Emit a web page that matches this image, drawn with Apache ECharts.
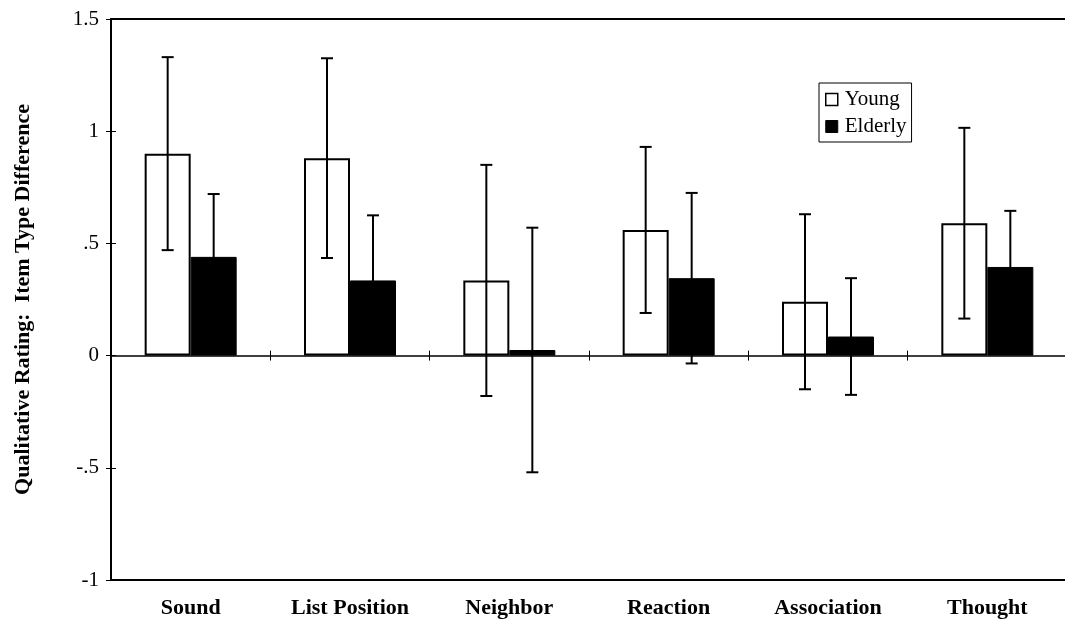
<!DOCTYPE html>
<html>
<head>
<meta charset="utf-8">
<script src="https://cdn.jsdelivr.net/npm/echarts@6/dist/echarts.min.js"></script>
<style>
  html, body { margin: 0; padding: 0; background: #fff; }
  #chart { width: 1065px; height: 622px; }
</style>
</head>
<body>
<div id="chart"></div>
<script>
const categories = ['Sound', 'List Position', 'Neighbor', 'Reaction', 'Association', 'Thought'];
const youngValues = [0.90, 0.88, 0.335, 0.56, 0.24, 0.59];
const elderlyValues = [0.44, 0.335, 0.025, 0.345, 0.085, 0.395];
const youngErrors = [0.43, 0.445, 0.515, 0.37, 0.39, 0.425];
const elderlyErrors = [0.28, 0.29, 0.545, 0.38, 0.26, 0.25];
const yTickLabels = { '-1': '-1', '-0.5': '-.5', '0': '0', '0.5': '.5', '1': '1', '1.5': '1.5' };

const FONT = '"Liberation Serif", "Times New Roman", serif';
const BAR_W = 46;

function errorSeries(name, values, errors, offset) {
  return {
    type: 'custom',
    name: name + ' error',
    xAxisIndex: 0,
    yAxisIndex: 0,
    z: 5,
    silent: true,
    data: values.map((v, i) => [i, v, errors[i]]),
    encode: { x: 0, y: [1] },
    renderItem: function (params, api) {
      const i = api.value(0), v = api.value(1), e = api.value(2);
      const hi = api.coord([i, v + e]);
      const lo = api.coord([i, v - e]);
      const x = hi[0] + offset;
      const cap = 6;
      const st = { stroke: '#000', lineWidth: 2 };
      return {
        type: 'group',
        children: [
          { type: 'line', shape: { x1: x, y1: hi[1], x2: x, y2: lo[1] }, style: st },
          { type: 'line', shape: { x1: x - cap, y1: hi[1], x2: x + cap, y2: hi[1] }, style: st },
          { type: 'line', shape: { x1: x - cap, y1: lo[1], x2: x + cap, y2: lo[1] }, style: st }
        ]
      };
    }
  };
}

const chart = echarts.init(document.getElementById('chart'), null, { renderer: 'canvas' });
chart.setOption({
  backgroundColor: '#fff',
  animation: false,
  textStyle: { fontFamily: FONT, color: '#000' },
  grid: {
    left: 111, top: 19, right: -2, bottom: 42,
    outerBoundsMode: 'none',
    show: true, borderColor: '#000', borderWidth: 2, backgroundColor: 'transparent'
  },
  legend: {
    orient: 'vertical',
    left: 819, top: 83,
    padding: [6, 5, 5, 6],
    itemGap: 6,
    itemWidth: 12, itemHeight: 12,
    borderColor: '#000', borderWidth: 1,
    textStyle: { fontFamily: FONT, fontSize: 21, color: '#000', padding: [0, 0, 0, 2] },
    data: [
      { name: 'Young', icon: 'rect', itemStyle: { color: '#fff', borderColor: '#000', borderWidth: 1.5 } },
      { name: 'Elderly', icon: 'rect', itemStyle: { color: '#000', borderColor: '#000', borderWidth: 1 } }
    ]
  },
  xAxis: [
    {
      type: 'category', data: categories, position: 'bottom',
      axisLine: { show: true, onZero: true, onZeroAxisIndex: 0, lineStyle: { color: '#000', width: 1.5 } },
      axisTick: { show: true, length: 5, inside: false, lineStyle: { color: '#000', width: 1 } },
      axisLabel: { show: false }, splitLine: { show: false }
    },
    {
      type: 'category', data: categories, position: 'top',
      axisLine: { show: false, onZero: true, onZeroAxisIndex: 0 },
      axisTick: { show: true, length: 5, inside: false, lineStyle: { color: '#000', width: 1 } },
      axisLabel: { show: false }, splitLine: { show: false }
    },
    {
      type: 'category', data: categories, position: 'bottom',
      axisLine: { show: false, onZero: false },
      axisTick: { show: false },
      axisLabel: { show: true, margin: 17, fontFamily: FONT, fontSize: 22, fontWeight: 'bold', color: '#000' },
      splitLine: { show: false }
    }
  ],
  yAxis: [
    {
      type: 'value', min: -1, max: 1.5, interval: 0.5, position: 'left',
      name: 'Qualitative Rating:  Item Type Difference',
      nameLocation: 'middle', nameGap: 77, nameRotate: 90,
      nameTextStyle: { fontFamily: FONT, fontSize: 22, fontWeight: 'bold', color: '#000' },
      axisLine: { show: true, lineStyle: { color: '#000', width: 2 } },
      axisTick: { show: true, length: 5, inside: false, lineStyle: { color: '#000', width: 1 } },
      axisLabel: {
        margin: 12, fontFamily: FONT, fontSize: 21, color: '#000',
        formatter: v => yTickLabels[String(v)] !== undefined ? yTickLabels[String(v)] : String(v)
      },
      splitLine: { show: false }
    },
    {
      type: 'value', min: -1, max: 1.5, interval: 0.5, position: 'left',
      axisLine: { show: false },
      axisTick: { show: true, length: 5, inside: true, lineStyle: { color: '#000', width: 1 } },
      axisLabel: { show: false },
      splitLine: { show: false }
    }
  ],
  series: [
    {
      name: 'Young', type: 'bar', xAxisIndex: 0, yAxisIndex: 0,
      data: youngValues, barWidth: BAR_W, barGap: '0%',
      itemStyle: { color: '#fff', borderColor: '#000', borderWidth: 2 }
    },
    {
      name: 'Elderly', type: 'bar', xAxisIndex: 0, yAxisIndex: 0,
      data: elderlyValues, barWidth: BAR_W, barGap: '0%',
      itemStyle: { color: '#000', borderColor: '#000', borderWidth: 1 }
    },
    errorSeries('Young', youngValues, youngErrors, -BAR_W / 2),
    errorSeries('Elderly', elderlyValues, elderlyErrors, BAR_W / 2)
  ]
});
</script>
</body>
</html>
